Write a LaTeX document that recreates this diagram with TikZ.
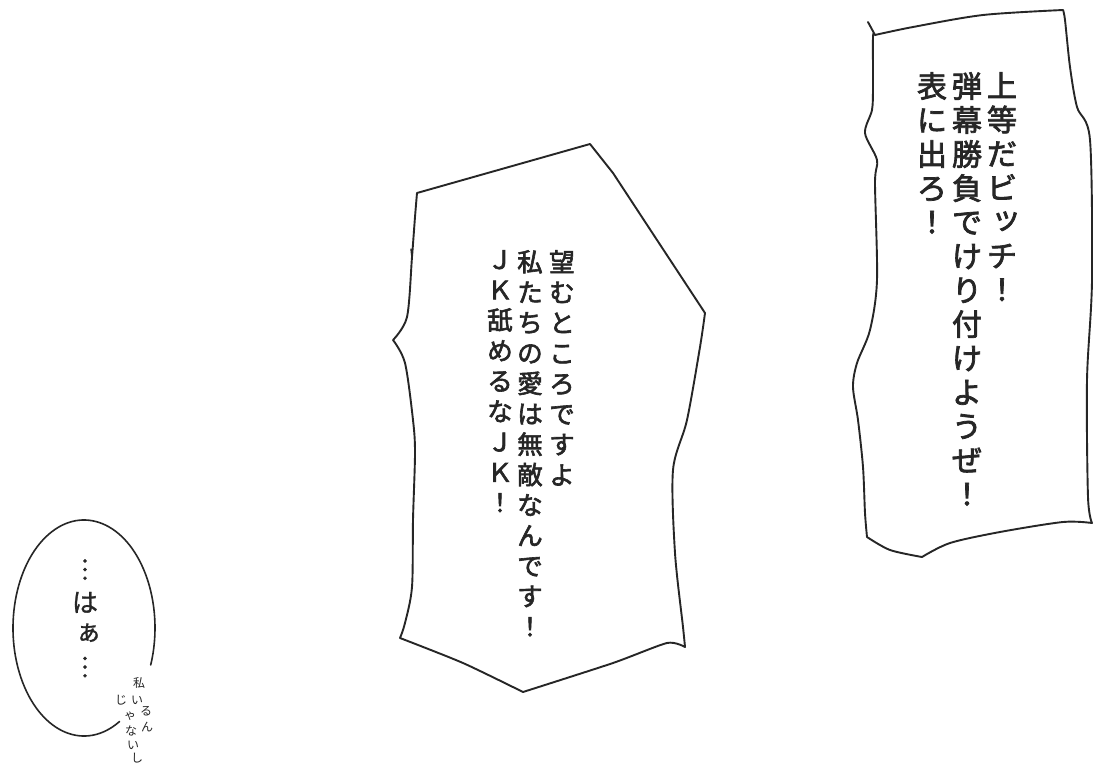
\documentclass[tikz,border=0pt]{standalone}
\usepackage{fontspec}
\newfontfamily\cjkb{Noto Sans CJK JP}[FakeBold=2.4]
\newfontfamily\cjkm{Noto Sans CJK JP}[FakeBold=1.0]
\newfontfamily\cjkh{Noto Sans CJK JP}
\definecolor{ink}{HTML}{262626}
% small kana shifted to the upper right of the cell, as in vertical setting
\newcommand\smallkana[1]{\makebox[1em][l]{\hspace{0.14em}\raisebox{0.14em}{#1}}}
\begin{document}
\begin{tikzpicture}[x=1pt,y=1pt,yscale=-1,
  outline/.style={draw=ink,line width=1.9pt,line join=round,line cap=round},
  vcol/.style={anchor=north,align=center,inner sep=0pt,text=ink},
  bigtext/.style={vcol,font=\cjkb\fontsize{30}{34}\selectfont},
  midtext/.style={vcol,font=\cjkb\fontsize{25.5}{30.4}\selectfont},
  elltext/.style={vcol,font=\cjkm\fontsize{26}{32.5}\selectfont},
  handtext/.style={inner sep=0pt,text=ink,font=\cjkh\fontsize{12}{14}\selectfont}]
\useasboundingbox[fill=white] (0,0) rectangle (1093,766);

% right box
\draw[outline] (868,22) -- (875,35)
  -- plot[smooth,tension=0.5] coordinates {(875,35) (913,27) (983,15) (1063,10)}
  -- plot[smooth,tension=0.5] coordinates {(1063,10) (1065,20) (1070,67) (1077,107) (1090,140) (1092,280) (1087,380) (1088,497) (1092,523)}
  -- plot[smooth,tension=0.5] coordinates {(1092,523) (1063,522) (1000,532) (950,543) (922,557)}
  -- plot[smooth,tension=0.5] coordinates {(922,557) (890,550) (867,537)}
  -- plot[smooth,tension=0.5] coordinates {(867,537) (865,513) (863,467) (858,420) (853,387) (857,363) (870,330) (877,280) (875,183) (877,160) (865,133) (872,110) (873,87) (873,37) (875,35)};

\node[bigtext] (r1) at (1002,72) {上\\等\\だ\\ビ\\\smallkana{ッ}\\チ\\！};
\node[bigtext] (r2) at (967,72) {弾\\幕\\勝\\負\\で\\け\\り\\付\\け\\よ\\う\\ぜ\\！};
\node[bigtext] (r3) at (932,72) {表\\に\\出\\ろ\\！};

% middle box
\draw[outline] (417,193) -- (590,144) -- (613,173) -- (657,240) -- (705,313)
  -- plot[smooth,tension=0.5] coordinates {(705,313) (700,347) (687,420) (673,470) (675,553) (683,627) (685,647)}
  -- plot[smooth,tension=0.4] coordinates {(685,647) (667,643) (613,663) (523,692)}
  -- plot[smooth,tension=0.4] coordinates {(523,692) (463,663) (400,638)}
  -- plot[smooth,tension=0.5] coordinates {(400,638) (405,623) (412,587) (413,520) (415,453) (413,420) (405,363) (393,340)}
  -- plot[smooth,tension=0.5] coordinates {(393,340) (407,317) (412,257) (415,217) (417,193)} -- cycle;
\draw[outline,line width=1.4pt] (411,249) -- (412,258);

\node[midtext] (m1) at (562,250) {望\\む\\と\\こ\\ろ\\で\\す\\よ};
\node[midtext] (m2) at (530,250) {私\\た\\ち\\の\\愛\\は\\無\\敵\\な\\ん\\で\\す\\！};
\node[midtext] (m3) at (500,250) {Ｊ\\Ｋ\\舐\\め\\る\\な\\Ｊ\\Ｋ\\！};

% speech ellipse
\coordinate (elc) at (84,628);
\draw[outline,line width=1.6pt] ([shift={(60:71 and 108)}]elc) arc[start angle=60,end angle=380,x radius=71,y radius=108];
\node[elltext] (e1) at (85,559) {︙\\は\\\smallkana{ぁ}\\︙};

% handwritten aside, one glyph at a time as it is scrawled
\node[handtext] (ha) at (139,683) {私};
\node[handtext] (hb) at (137,700) {い};
\node[handtext] (hc) at (146,711) {る};
\node[handtext] (hd) at (147,727) {ん};
\node[handtext] (he) at (121,700) {じ};
\node[handtext] (hf) at (130,716) {ゃ};
\node[handtext] (hg) at (131,731) {な};
\node[handtext] (hh) at (133,745) {い};
\node[handtext] (hi) at (137,758) {し};
\end{tikzpicture}
\end{document}
